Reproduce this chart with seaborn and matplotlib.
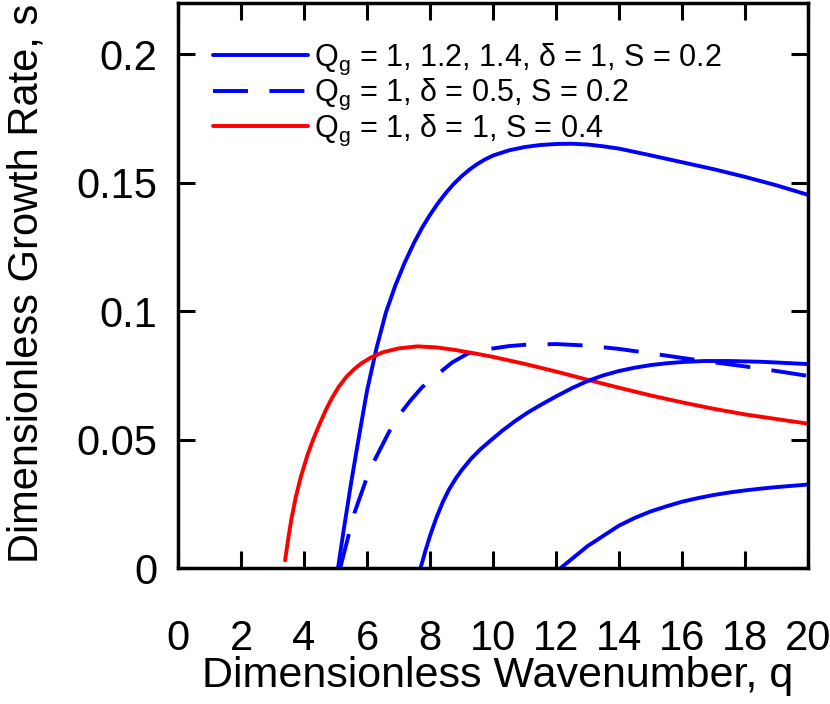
import matplotlib
matplotlib.use('Agg')
import pandas as pd
import seaborn as sns
import matplotlib.pyplot as plt

# Growth-rate curves
q_q10 = [5.08, 5.25, 5.5, 5.75, 6.0, 6.3, 6.6, 6.9, 7.2, 7.5, 7.75, 8.0, 8.25, 8.5, 8.75, 9.0,
         9.25, 9.5, 9.75, 10.0, 10.5, 11.0, 11.5, 12.0, 12.5, 13.0, 13.5, 14.0, 15.0, 16.0,
         17.0, 18.0, 19.0, 20.0]
s_q10 = [0.0, 0.014, 0.0335, 0.0515, 0.069, 0.0855, 0.0995, 0.110, 0.119, 0.1268, 0.1325,
         0.1375, 0.142, 0.146, 0.1495, 0.1525, 0.1551, 0.1573, 0.1591, 0.1606, 0.1626, 0.1639,
         0.1647, 0.1651, 0.1652, 0.1649, 0.1642, 0.1633, 0.1607, 0.158, 0.1553, 0.1523,
         0.149, 0.1453]

q_q12 = [7.7, 7.85, 8.0, 8.2, 8.4, 8.6, 8.8, 9.0, 9.3, 9.6, 9.9, 10.3, 10.7, 11.1, 11.5, 12.0,
         12.5, 13.0, 13.5, 14.0, 14.5, 15.0, 15.5, 16.0, 16.7, 17.5, 18.5, 19.2, 20.0]
s_q12 = [0.0, 0.0065, 0.0125, 0.0195, 0.0255, 0.0305, 0.0345, 0.038, 0.0425, 0.0462, 0.0494,
         0.0535, 0.0572, 0.0605, 0.0634, 0.0668, 0.070, 0.0728, 0.075, 0.0767, 0.078, 0.079,
         0.0797, 0.0802, 0.0806, 0.0806, 0.0803, 0.0799, 0.0794]

q_q14 = [12.15, 12.5, 13.0, 13.5, 14.0, 14.5, 15.0, 15.5, 16.0, 16.5, 17.0, 17.5, 18.0, 18.5,
         19.0, 19.5, 20.0]
s_q14 = [0.0, 0.0035, 0.0085, 0.0125, 0.0165, 0.0195, 0.022, 0.024, 0.0258, 0.0272, 0.0284,
         0.0294, 0.0302, 0.0309, 0.0315, 0.032, 0.0325]

q_d05 = [5.15, 5.4, 5.6, 5.95, 6.2, 6.7, 7.05, 7.4, 7.75, 8.2, 8.7, 9.2, 9.9, 10.5, 11.0, 12.0,
         13.0, 14.0, 15.0, 16.0, 17.0, 18.0, 19.0, 20.0]
s_d05 = [0.0, 0.012, 0.0214, 0.0336, 0.041, 0.053, 0.060, 0.0655, 0.0704, 0.075, 0.080, 0.0835,
         0.0853, 0.0864, 0.0869, 0.0872, 0.0866, 0.0853, 0.0836, 0.0818, 0.0801, 0.0785, 0.0767,
         0.0748]

q_s04 = [3.4, 3.5, 3.6, 3.74, 3.9, 4.1, 4.29, 4.5, 4.7, 4.87, 5.1, 5.35, 5.6, 5.8, 6.1, 6.5, 7.0,
         7.6, 8.2, 8.8, 9.4, 10.0, 11.0, 12.0, 13.0, 14.0, 15.0, 16.0, 17.0, 18.0, 19.0, 20.0]
s_s04 = [0.003, 0.0115, 0.019, 0.0277, 0.0355, 0.0436, 0.050, 0.0562, 0.0617, 0.0658, 0.0705,
         0.0745, 0.0775, 0.0795, 0.0818, 0.084, 0.0855, 0.0863, 0.0859, 0.0849, 0.0836, 0.0822,
         0.0795, 0.0765, 0.0733, 0.0702, 0.0672, 0.0645, 0.062, 0.0598, 0.058, 0.0562]

labels = [r'Q$_\mathregular{g}$ = 1, 1.2, 1.4, $\mathregular{\delta}$ = 1, S = 0.2',
          r'Q$_\mathregular{g}$ = 1, $\mathregular{\delta}$ = 0.5, S = 0.2',
          r'Q$_\mathregular{g}$ = 1, $\mathregular{\delta}$ = 1, S = 0.4']
x_ticks = [0, 2, 4, 6, 8, 10, 12, 14, 16, 18, 20]
y_ticks = [0, 0.05, 0.1, 0.15, 0.2]
y_tick_labels = ['0', '0.05', '0.1', '0.15', '0.2']

sns.set_style('ticks')
plt.rcParams['font.family'] = ['Liberation Sans', 'DejaVu Sans']
plt.rcParams['mathtext.fontset'] = 'custom'
plt.rcParams['mathtext.rm'] = 'Liberation Sans'
plt.rcParams['text.color'] = 'black'
plt.rcParams['axes.labelcolor'] = 'black'

fig = plt.figure(figsize=(8.3, 7.04), dpi=100)
ax = fig.add_axes([178 / 830, 136 / 704, 630 / 830, 565 / 704])

lw = 2.8
blue = '#0000ff'
red = '#ff0000'

sns.lineplot(x=q_q10, y=s_q10, ax=ax, color=blue, lw=lw, sort=False, estimator=None, label=labels[0])
sns.lineplot(x=q_d05, y=s_d05, ax=ax, color=blue, lw=lw, sort=False, estimator=None, label=labels[1])
ax.lines[-1].set_dashes([9, 5.5])
sns.lineplot(x=q_s04, y=s_s04, ax=ax, color=red, lw=lw, sort=False, estimator=None, label=labels[2])
sns.lineplot(x=q_q12, y=s_q12, ax=ax, color=blue, lw=lw, sort=False, estimator=None)
sns.lineplot(x=q_q14, y=s_q14, ax=ax, color=blue, lw=lw, sort=False, estimator=None)

ax.set_xlim(0, 20)
ax.set_ylim(0, 0.22)
ax.set_xticks(x_ticks)
ax.set_yticks(y_ticks)
ax.set_yticklabels(y_tick_labels)

for side in ['left', 'right', 'top', 'bottom']:
    ax.spines[side].set_visible(True)
    ax.spines[side].set_linewidth(2.5)
    ax.spines[side].set_color('black')
ax.tick_params(direction='in', length=12, width=2.2, top=True, right=True,
               labelsize=30, colors='black')
ax.tick_params(axis='x', pad=37)
ax.tick_params(axis='y', pad=15)

ax.set_xlabel('Dimensionless Wavenumber, q', fontsize=31)
ax.set_ylabel('Dimensionless Growth Rate, s', fontsize=30)
ax.xaxis.set_label_coords(0.507, -0.156)
ax.yaxis.set_label_coords(-0.2095, 0.503)

leg = ax.legend(loc='upper left', bbox_to_anchor=(0.056, 0.931), frameon=False, fontsize=22,
                handlelength=3.1, handletextpad=0.2, labelspacing=0.0, borderpad=0,
                borderaxespad=0)

plt.savefig('out.png', dpi=100)
